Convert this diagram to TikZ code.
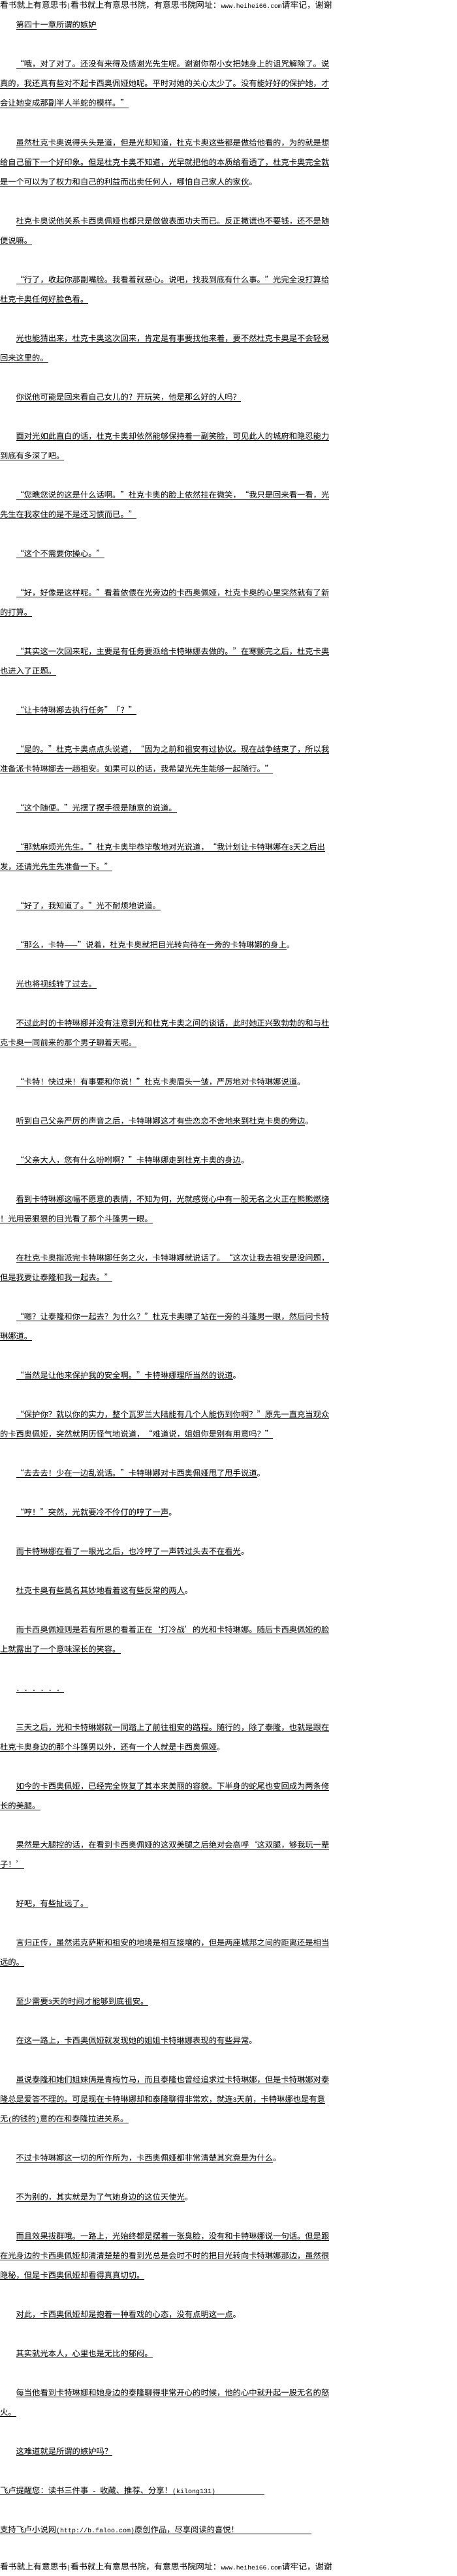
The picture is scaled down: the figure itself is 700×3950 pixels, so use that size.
\documentclass[tikz,border=0pt]{standalone}
\usepackage{fontspec}
\newfontfamily\cjkfont{Noto Sans CJK SC}
\newfontfamily\monofont{Liberation Mono}
\newcommand\hw[1]{{\monofont\fontsize{10}{12}\selectfont #1}}
\newcommand\hwh[1]{{\monofont\fontsize{9.7}{12}\selectfont #1}}
\catcode`\“=\active
\catcode`\”=\active
\catcode`\‘=\active
\catcode`\’=\active
\def“{\makebox[1em][r]{\char"201C}}
\def”{\makebox[1em][l]{\char"201D}}
\def‘{\makebox[1em][r]{\char"2018}}
\def’{\makebox[1em][l]{\char"2019}}
\tikzset{
  txt/.style={anchor=base west,inner sep=0pt,outer sep=0pt,text=black,font={\cjkfont\fontsize{12.3}{14}\selectfont}},
  hdr/.style={anchor=base west,inner sep=0pt,outer sep=0pt,text=black,font={\cjkfont\fontsize{12.8}{14}\selectfont}},
  ul/.style={draw=black,line width=1pt}
}
\newcommand\txtline[4]{%
  \node[txt] (L#1) at (#2,{13+30*#1}) {#3};
  \node[txt] (T#1) at (L#1.base east) {#4};
  \draw[ul] ([yshift=-2.3pt]L#1.base west) -- ([yshift=-2.3pt]L#1.base east);
}
\begin{document}
\begin{tikzpicture}[x=1pt,y=-1pt]
\fill[white] (0,0) rectangle (700,3950);
\useasboundingbox (0,0) rectangle (700,3950);
\begin{scope}
\clip (0,0) rectangle (518,3950);
\node[hdr] (H0) at (0,12.5) {看书就上有意思书\hwh{|}看书就上有意思书院，有意思书院网址：\hwh{www.heihei66.com}请牢记，谢谢};
\node[hdr] (H1) at (0,3940) {看书就上有意思书\hwh{|}看书就上有意思书院，有意思书院网址：\hwh{www.heihei66.com}请牢记，谢谢};
\end{scope}
\txtline{1}{24.6}{第四十一章所谓的嫉妒}{}
\txtline{3}{24.6}{“哦，对了对了。还没有来得及感谢光先生呢。谢谢你帮小女把她身上的诅咒解除了。说}{}
\txtline{4}{0}{真的，我还真有些对不起卡西奥佩娅她呢。平时对她的关心太少了。没有能好好的保护她，才}{}
\txtline{5}{0}{会让她变成那副半人半蛇的模样。”}{}
\txtline{7}{24.6}{虽然杜克卡奥说得头头是道，但是光却知道，杜克卡奥这些都是做给他看的，为的就是想}{}
\txtline{8}{0}{给自己留下一个好印象。但是杜克卡奥不知道，光早就把他的本质给看透了，杜克卡奥完全就}{}
\txtline{9}{0}{是一个可以为了权力和自己的利益而出卖任何人，哪怕自己家人的家伙}{。}
\txtline{11}{24.6}{杜克卡奥说他关系卡西奥佩娅也都只是做做表面功夫而已。反正撒谎也不要钱，还不是随}{}
\txtline{12}{0}{便说嘛。}{}
\txtline{14}{24.6}{“行了，收起你那副嘴脸。我看着就恶心。说吧，找我到底有什么事。”光完全没打算给}{}
\txtline{15}{0}{杜克卡奥任何好脸色看。}{}
\txtline{17}{24.6}{光也能猜出来，杜克卡奥这次回来，肯定是有事要找他来着，要不然杜克卡奥是不会轻易}{}
\txtline{18}{0}{回来这里的。}{}
\txtline{20}{24.6}{你说他可能是回来看自己女儿的？开玩笑，他是那么好的人吗？}{}
\txtline{22}{24.6}{面对光如此直白的话，杜克卡奥却依然能够保持着一副笑脸，可见此人的城府和隐忍能力}{}
\txtline{23}{0}{到底有多深了吧。}{}
\txtline{25}{24.6}{“您瞧您说的这是什么话啊。”杜克卡奥的脸上依然挂在微笑，“我只是回来看一看，光}{}
\txtline{26}{0}{先生在我家住的是不是还习惯而已。”}{}
\txtline{28}{24.6}{“这个不需要你操心。”}{}
\txtline{30}{24.6}{“好，好像是这样呢。”看着依偎在光旁边的卡西奥佩娅，杜克卡奥的心里突然就有了新}{}
\txtline{31}{0}{的打算。}{}
\txtline{33}{24.6}{“其实这一次回来呢，主要是有任务要派给卡特琳娜去做的。”在寒颤完之后，杜克卡奥}{}
\txtline{34}{0}{也进入了正题。}{}
\txtline{36}{24.6}{“让卡特琳娜去执行任务”「？”}{}
\txtline{38}{24.6}{“是的。”杜克卡奥点点头说道，“因为之前和祖安有过协议。现在战争结束了，所以我}{}
\txtline{39}{0}{准备派卡特琳娜去一趟祖安。如果可以的话，我希望光先生能够一起随行。”}{}
\txtline{41}{24.6}{“这个随便。”光摆了摆手很是随意的说道。}{}
\txtline{43}{24.6}{“那就麻烦光先生。”杜克卡奥毕恭毕敬地对光说道，“我计划让卡特琳娜在\hw{3}天之后出}{}
\txtline{44}{0}{发，还请光先生先准备一下。”}{}
\txtline{46}{24.6}{“好了，我知道了。”光不耐烦地说道。}{}
\txtline{48}{24.6}{“那么，卡特——”说着，杜克卡奥就把目光转向待在一旁的卡特琳娜的身上}{。}
\txtline{50}{24.6}{光也将视线转了过去。}{}
\txtline{52}{24.6}{不过此时的卡特琳娜并没有注意到光和杜克卡奥之间的谈话，此时她正兴致勃勃的和与杜}{}
\txtline{53}{0}{克卡奥一同前来的那个男子聊着天呢。}{}
\txtline{55}{24.6}{“卡特！快过来！有事要和你说！”杜克卡奥眉头一皱，严厉地对卡特琳娜说道}{。}
\txtline{57}{24.6}{听到自己父亲严厉的声音之后，卡特琳娜这才有些恋恋不舍地来到杜克卡奥的旁边}{。}
\txtline{59}{24.6}{“父亲大人，您有什么吩咐啊？”卡特琳娜走到杜克卡奥的身边}{。}
\txtline{61}{24.6}{看到卡特琳娜这幅不愿意的表情，不知为何，光就感觉心中有一股无名之火正在熊熊燃烧}{}
\txtline{62}{0}{！光用恶狠狠的目光看了那个斗篷男一眼。}{}
\txtline{64}{24.6}{在杜克卡奥指派完卡特琳娜任务之火，卡特琳娜就说话了。“这次让我去祖安是没问题，}{}
\txtline{65}{0}{但是我要让泰隆和我一起去。”}{}
\txtline{67}{24.6}{“嗯？让泰隆和你一起去？为什么？”杜克卡奥瞟了站在一旁的斗篷男一眼，然后问卡特}{}
\txtline{68}{0}{琳娜道。}{}
\txtline{70}{24.6}{“当然是让他来保护我的安全啊。”卡特琳娜理所当然的说道}{。}
\txtline{72}{24.6}{“保护你？就以你的实力，整个瓦罗兰大陆能有几个人能伤到你啊？”原先一直充当观众}{}
\txtline{73}{0}{的卡西奥佩娅，突然就阴历怪气地说道，“难道说，姐姐你是别有用意吗？”}{}
\txtline{75}{24.6}{“去去去！少在一边乱说话。”卡特琳娜对卡西奥佩娅甩了甩手说道}{。}
\txtline{77}{24.6}{“哼！”突然，光就要冷不伶仃的哼了一声}{。}
\txtline{79}{24.6}{而卡特琳娜在看了一眼光之后，也冷哼了一声转过头去不在看光}{。}
\txtline{81}{24.6}{杜克卡奥有些莫名其妙地看着这有些反常的两人}{。}
\txtline{83}{24.6}{而卡西奥佩娅则是若有所思的看着正在‘打冷战’的光和卡特琳娜。随后卡西奥佩娅的脸}{}
\txtline{84}{0}{上就露出了一个意味深长的笑容。}{}
\txtline{86}{24.6}{．．．．．．}{}
\txtline{88}{24.6}{三天之后，光和卡特琳娜就一同踏上了前往祖安的路程。随行的，除了泰隆，也就是跟在}{}
\txtline{89}{0}{杜克卡奥身边的那个斗篷男以外，还有一个人就是卡西奥佩娅}{。}
\txtline{91}{24.6}{如今的卡西奥佩娅，已经完全恢复了其本来美丽的容貌。下半身的蛇尾也变回成为两条修}{}
\txtline{92}{0}{长的美腿。}{}
\txtline{94}{24.6}{果然是大腿控的话，在看到卡西奥佩娅的这双美腿之后绝对会高呼‘这双腿，够我玩一辈}{}
\txtline{95}{0}{子！’}{}
\txtline{97}{24.6}{好吧，有些扯远了。}{}
\txtline{99}{24.6}{言归正传，虽然诺克萨斯和祖安的地境是相互接壤的，但是两座城邦之间的距离还是相当}{}
\txtline{100}{0}{远的。}{}
\txtline{102}{24.6}{至少需要\hw{3}天的时间才能够到底祖安。}{}
\txtline{104}{24.6}{在这一路上，卡西奥佩娅就发现她的姐姐卡特琳娜表现的有些异常}{。}
\txtline{106}{24.6}{虽说泰隆和她们姐妹俩是青梅竹马，而且泰隆也曾经追求过卡特琳娜，但是卡特琳娜对泰}{}
\txtline{107}{0}{隆总是爱答不理的。可是现在卡特琳娜却和泰隆聊得非常欢，就连\hw{3}天前，卡特琳娜也是有意}{}
\txtline{108}{0}{无\hw{(}的钱的\hw{)}意的在和泰隆拉进关系。\hspace{5pt}}{}
\txtline{110}{24.6}{不过卡特琳娜这一切的所作所为，卡西奥佩娅都非常清楚其究竟是为什么}{。}
\txtline{112}{24.6}{不为别的，其实就是为了气她身边的这位天使光}{。}
\txtline{114}{24.6}{而且效果拔群哦。一路上，光始终都是摆着一张臭脸，没有和卡特琳娜说一句话。但是跟}{}
\txtline{115}{0}{在光身边的卡西奥佩娅却清清楚楚的看到光总是会时不时的把目光转向卡特琳娜那边，虽然很}{}
\txtline{116}{0}{隐秘，但是卡西奥佩娅却看得真真切切。}{}
\txtline{118}{24.6}{对此，卡西奥佩娅却是抱着一种看戏的心态，没有点明这一点}{。}
\txtline{120}{24.6}{其实就光本人，心里也是无比的郁闷。}{}
\txtline{122}{24.6}{每当他看到卡特琳娜和她身边的泰隆聊得非常开心的时候，他的心中就升起一股无名的怒}{}
\txtline{123}{0}{火。}{}
\txtline{125}{24.6}{这难道就是所谓的嫉妒吗？}{}
\txtline{127}{0}{飞卢提醒您：读书三件事\hw{ - }收藏、推荐、分享！\hw{(kilong131)}}{}
\draw[ul] ([yshift=-2.3pt]L127.base east) -- ([yshift=-2.3pt,xshift=405pt]L127.base west);
\txtline{129}{0}{支持飞卢小说网\hw{(http://b.faloo.com)}原创作品，尽享阅读的喜悦！}{}
\draw[ul] ([yshift=-2.3pt]L129.base east) -- ([yshift=-2.3pt,xshift=477pt]L129.base west);
\end{tikzpicture}
\end{document}
